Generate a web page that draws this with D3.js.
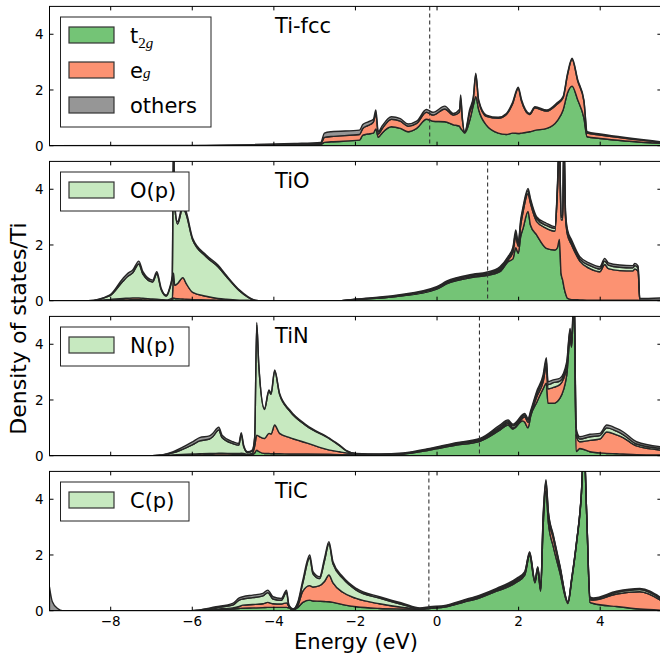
<!DOCTYPE html>
<meta charset="utf-8">
<html>
<head>
  <title>Ti DOS stack</title>
  <script src="https://d3js.org/d3.v7.min.js"></script>
  <style>
    body { margin: 0; background: white; }
    svg text { font-family: "DejaVu Sans", sans-serif; fill: #000; }
  </style>
</head>
<body>
<div id="chart"></div>
<script>

// each row: energy, then the top edge of every stacked layer (t2g, +eg, [+p], +others)
var fccRows = [
  [-9.5,0,0,0],[-6.0,0,0,0.01],[-4.5,0.01,0.02,0.04],[-3.5,0.03,0.05,0.08],[-2.85,0.05,0.08,0.12],
  [-2.76,0.12,0.3,0.45],[-2.6,0.14,0.33,0.5],[-1.9,0.2,0.4,0.56],[-1.82,0.38,0.62,0.76],[-1.7,0.42,0.72,0.85],
  [-1.56,0.45,0.85,0.95],[-1.5,0.6,1.15,1.28],[-1.44,0.3,0.42,0.5],[-1.35,0.45,0.6,0.7],[-1.12,0.68,0.95,1.04],
  [-0.9,0.62,0.88,0.97],[-0.71,0.5,0.7,0.78],[-0.5,0.62,0.8,0.88],[-0.26,0.95,1.2,1.3],[-0.1,0.88,1.1,1.2],
  [0.19,0.86,1.32,1.42],[0.4,0.75,1.1,1.16],[0.55,0.7,1.2,1.3],[0.58,0.62,1.7,1.82],[0.62,0.55,0.95,1.02],
  [0.68,0.45,0.48,0.5],[0.8,0.9,1.2,1.3],[0.89,1.45,1.7,1.76],[0.95,1.76,2.55,2.6],[1.02,1.3,1.6,1.64],
  [1.21,0.74,1.05,1.1],[1.5,0.45,0.98,1.02],[1.7,0.4,1.12,1.16],[1.85,0.45,1.5,1.55],[1.99,0.44,2.05,2.1],
  [2.07,0.45,1.6,1.66],[2.27,0.5,1.12,1.16],[2.4,0.55,1.36,1.4],[2.69,0.62,1.24,1.28],[2.95,0.9,1.5,1.55],
  [3.09,1.28,1.72,1.76],[3.2,1.9,2.55,2.6],[3.31,2.14,3.1,3.14],[3.45,1.64,2.32,2.36],[3.6,1.0,1.6,1.64],
  [3.68,0.32,0.45,0.5],[4.0,0.26,0.38,0.42],[5.5,0.08,0.12,0.14]
];

var tioRows = [
  [-9.5,0,0,0,0],[-8.55,0,0,0,0],[-8.03,0.01,0.04,0.17,0.2],[-7.7,0.03,0.08,0.7,0.8],[-7.58,0.03,0.09,0.88,0.98],
  [-7.46,0.04,0.1,1.0,1.1],[-7.31,0.04,0.1,1.32,1.42],[-7.21,0.03,0.09,0.95,1.04],[-6.97,0.02,0.06,0.67,0.74],
  [-6.87,0.02,0.05,0.97,1.04],[-6.76,0.01,0.04,0.39,0.44],[-6.64,0.01,0.03,0.17,0.2],[-6.56,0.02,0.05,0.4,0.44],
  [-6.49,0.03,0.1,0.87,0.92],[-6.46,0.1,1.0,5.9,6.0],[-6.43,0.08,0.55,3.4,3.5],[-6.36,0.07,0.62,2.75,2.84],
  [-6.23,0.06,0.83,3.35,3.45],[-6.15,0.05,0.62,3.1,3.2],[-5.99,0.04,0.3,2.18,2.24],[-5.66,0.03,0.16,1.58,1.64],
  [-5.37,0.02,0.08,1.22,1.28],[-5.17,0.01,0.05,0.88,0.92],[-4.84,0.01,0.02,0.35,0.38],[-4.47,0,0.01,0.02,0.02],
  [-4.37,0,0,0,0],[-2.39,0,0,0,0],[-1.98,0.04,0.045,0.05,0.06],[-1.0,0.15,0.16,0.18,0.2],[-0.01,0.42,0.44,0.47,0.5],
  [0.23,0.6,0.62,0.66,0.7],[0.88,0.84,0.86,0.9,0.95],[1.21,0.9,0.93,0.97,1.02],[1.54,1.04,1.1,1.16,1.22],
  [1.74,1.4,1.46,1.52,1.58],[1.86,1.5,1.75,1.85,1.92],[1.93,1.9,2.3,2.42,2.54],[1.99,1.7,1.95,2.02,2.1],
  [2.05,2.3,2.7,2.8,2.9],[2.11,2.6,3.2,3.3,3.38],[2.23,3.2,3.85,3.95,4.03],[2.29,2.72,3.5,3.6,3.67],
  [2.44,2.36,2.85,2.95,3.02],[2.68,1.88,2.6,2.7,2.78],[2.89,1.82,2.5,2.6,2.66],[2.95,1.9,3.9,4.0,4.1],
  [3.0,2.2,5.8,5.9,6.0],[3.04,0.98,2.9,3.0,3.05],[3.08,0.74,2.9,3.0,3.05],[3.11,0.5,5.8,5.9,6.0],
  [3.15,0.26,3.0,3.1,3.2],[3.2,0.08,2.35,2.45,2.54],[3.3,0.04,2.0,2.1,2.18],[3.5,0.03,1.42,1.5,1.58],
  [3.75,0.02,1.15,1.26,1.34],[3.99,0.02,1.04,1.14,1.22],[4.11,0.02,1.3,1.42,1.52],[4.2,0.02,1.15,1.28,1.36],
  [4.48,0.02,1.08,1.2,1.28],[4.8,0.02,1.07,1.18,1.26],[4.85,0.02,1.14,1.26,1.34],[4.93,0.02,1.05,1.16,1.24],
  [4.97,0,0.01,0.02,0.08],[5.5,0,0.01,0.02,0.1]
];

var tinRows = [
  [-9.5,0,0,0,0],[-6.98,0,0,0,0],[-6.48,0.01,0.03,0.1,0.14],[-5.99,0.02,0.06,0.4,0.5],[-5.82,0.02,0.07,0.53,0.65],
  [-5.58,0.03,0.08,0.6,0.71],[-5.5,0.03,0.08,0.68,0.8],[-5.35,0.03,0.09,0.92,1.02],[-5.27,0.03,0.09,0.65,0.74],
  [-5.0,0.03,0.08,0.43,0.5],[-4.86,0.03,0.08,0.38,0.44],[-4.8,0.04,0.09,0.76,0.83],[-4.74,0.03,0.08,0.33,0.38],
  [-4.64,0.02,0.05,0.11,0.14],[-4.53,0.04,0.08,0.17,0.2],[-4.47,0.1,0.35,0.64,0.68],[-4.42,0.2,0.74,4.7,4.78],
  [-4.37,0.15,0.7,3.25,3.3],[-4.23,0.08,0.62,1.66,1.7],[-4.12,0.08,0.8,2.32,2.36],[-4.07,0.07,0.78,2.2,2.24],
  [-3.98,0.07,1.1,3.04,3.08],[-3.86,0.07,0.8,2.2,2.24],[-3.61,0.06,0.65,1.6,1.64],[-3.2,0.06,0.46,1.07,1.1],
  [-2.63,0.05,0.2,0.6,0.62],[-2.39,0.04,0.14,0.36,0.38],[-2.22,0.04,0.1,0.17,0.18],[-1.98,0.03,0.06,0.075,0.08],
  [-1.41,0.03,0.04,0.05,0.06],[-0.83,0.06,0.07,0.08,0.1],[-0.18,0.2,0.22,0.24,0.26],[0.47,0.38,0.41,0.44,0.47],
  [1.05,0.52,0.55,0.58,0.62],[1.54,0.92,0.97,1.03,1.1],[1.74,1.1,1.16,1.22,1.28],[1.86,0.96,1.0,1.07,1.13],
  [2.1,1.25,1.35,1.42,1.48],[2.15,1.2,1.4,1.46,1.52],[2.23,1.0,1.2,1.28,1.34],[2.3,1.45,1.5,1.58,1.64],
  [2.44,1.9,2.1,2.22,2.3],[2.6,2.4,2.65,2.8,2.9],[2.68,2.6,3.2,3.4,3.52],[2.72,1.88,2.4,2.55,2.66],
  [2.85,1.88,2.45,2.62,2.72],[3.01,2.06,2.55,2.68,2.78],[3.18,2.9,3.15,3.28,3.38],[3.26,4.2,4.4,4.5,4.57],
  [3.3,3.9,4.0,4.1,4.2],[3.36,5.8,5.9,6.0,6.1],[3.41,0.15,0.75,0.9,0.98],[3.5,0.26,0.5,0.6,0.68],
  [3.75,0.14,0.55,0.68,0.77],[3.99,0.1,0.6,0.72,0.8],[4.16,0.08,0.85,1.0,1.1],[4.4,0.07,0.75,0.88,0.98],
  [4.56,0.06,0.65,0.76,0.86],[4.89,0.04,0.35,0.42,0.5],[5.5,0.03,0.2,0.26,0.32]
];

var ticRows = [
  [-9.5,0,0,0,0.85],[-9.43,0,0,0,0.32],[-9.3,0,0,0,0.08],[-9.18,0,0,0,0],[-6.03,0,0,0,0],
  [-5.42,0.03,0.06,0.11,0.14],[-5.01,0.06,0.1,0.2,0.26],[-4.85,0.08,0.15,0.38,0.46],[-4.76,0.09,0.2,0.42,0.5],
  [-4.52,0.1,0.22,0.47,0.56],[-4.27,0.11,0.25,0.53,0.62],[-4.15,0.12,0.3,0.65,0.74],[-4.02,0.12,0.25,0.42,0.5],
  [-3.82,0.12,0.24,0.37,0.44],[-3.69,0.12,0.28,0.66,0.74],[-3.63,0.1,0.15,0.17,0.2],[-3.53,0.02,0.04,0.05,0.06],
  [-3.41,0.12,0.2,0.28,0.32],[-3.29,0.3,0.7,1.0,1.1],[-3.12,0.38,0.9,1.9,2.0],[-3.04,0.35,0.85,1.32,1.4],
  [-2.88,0.34,0.9,1.15,1.22],[-2.76,0.33,1.05,1.78,1.88],[-2.65,0.32,1.28,2.4,2.48],[-2.55,0.3,1.0,1.68,1.76],
  [-2.31,0.22,0.66,1.16,1.22],[-1.98,0.14,0.44,0.74,0.8],[-1.41,0.08,0.25,0.45,0.5],[-0.83,0.06,0.12,0.21,0.26],
  [-0.42,0.05,0.07,0.08,0.1],[-0.18,0.08,0.1,0.12,0.14],[0.23,0.14,0.16,0.18,0.2],[0.64,0.3,0.32,0.35,0.38],
  [1.05,0.46,0.49,0.52,0.56],[1.46,0.7,0.73,0.76,0.8],[1.95,1.02,1.08,1.12,1.16],[2.15,1.28,1.33,1.37,1.4],
  [2.27,1.98,2.05,2.09,2.12],[2.4,1.0,1.05,1.08,1.1],[2.47,1.48,1.53,1.55,1.58],[2.54,0.7,0.75,0.77,0.8],
  [2.6,3.0,3.2,3.3,3.38],[2.67,4.3,4.55,4.65,4.7],[2.73,3.15,3.4,3.5,3.55],[2.85,2.3,2.6,2.68,2.72],
  [3.01,1.38,1.56,1.6,1.64],[3.21,0.26,0.29,0.31,0.32],[3.3,1.08,1.12,1.14,1.16],[3.42,2.42,2.45,2.47,2.48],
  [3.54,4.2,4.24,4.26,4.27],[3.6,6.0,6.05,6.08,6.1],[3.67,3.36,3.4,3.42,3.43],[3.75,0.3,0.4,0.46,0.5],
  [3.83,0.26,0.38,0.42,0.46],[4.4,0.15,0.6,0.66,0.7],[4.97,0.06,0.68,0.76,0.8],[5.5,0.02,0.36,0.42,0.46]
];

var panelTitles = ["Ti-fcc", "TiO", "TiN", "TiC"];
var fermiLevels = [-0.18, 1.24, 1.04, -0.2];
var pLabels = ["O(p)", "N(p)", "C(p)"];
var xTicks = [-8, -6, -4, -2, 0, 2, 4];
var yTicks = [0, 2, 4];

var colors = {t2g: "#74c476", eg: "#fc9272", p: "#c7e9c0", others: "#969696"};

var panels = [
  {rows: fccRows, layers: ["t2g", "eg", "others"],
   legend: [{key: "t2g", text: "t", sub: ["2", "g"]}, {key: "eg", text: "e", sub: ["", "g"]}, {key: "others", text: "others"}]},
  {rows: tioRows, layers: ["t2g", "eg", "p", "others"], legend: [{key: "p", text: pLabels[0]}]},
  {rows: tinRows, layers: ["t2g", "eg", "p", "others"], legend: [{key: "p", text: pLabels[1]}]},
  {rows: ticRows, layers: ["t2g", "eg", "p", "others"], legend: [{key: "p", text: pLabels[2]}]}
];

// layout
var W = 660, H = 655;
var left = 49.5, right = 661.4;
var firstTop = 6.4, panelH = 139.3, step = 155;

var svg = d3.select("#chart").append("svg")
  .attr("width", W).attr("height", H)
  .style("display", "block")
  .style("background", "white");

var x = d3.scaleLinear().domain([-9.5, 5.5]).range([left, right]);

panels.forEach(function(p, i) {
  var top = firstTop + i * step, bottom = top + panelH;
  var y = d3.scaleLinear().domain([0, 5]).range([bottom, top]);

  svg.append("clipPath").attr("id", "clip" + i)
    .append("rect").attr("x", left).attr("y", top).attr("width", right - left).attr("height", panelH);

  var g = svg.append("g");
  var plot = g.append("g").attr("clip-path", "url(#clip" + i + ")");

  // stacked areas
  p.layers.forEach(function(key, k) {
    var area = d3.area()
      .curve(d3.curveMonotoneX)
      .x(function(d) { return x(d[0]); })
      .y0(function(d) { return y(k == 0 ? 0 : d[k]); })
      .y1(function(d) { return y(d[k + 1]); });
    plot.append("path")
      .datum(p.rows)
      .attr("d", area)
      .attr("fill", colors[key])
      .attr("stroke", "#262626")
      .attr("stroke-width", 1.4)
      .attr("stroke-linejoin", "round");
  });

  // fermi level
  plot.append("line")
    .attr("x1", x(fermiLevels[i])).attr("x2", x(fermiLevels[i]))
    .attr("y1", top).attr("y2", bottom)
    .attr("stroke", "#333").attr("stroke-width", 1.1)
    .attr("stroke-dasharray", "4,3");

  // frame
  g.append("rect")
    .attr("x", left).attr("y", top).attr("width", right - left).attr("height", panelH)
    .attr("fill", "none").attr("stroke", "#000").attr("stroke-width", 1);

  // inward ticks on all four sides
  xTicks.forEach(function(t) {
    g.append("line").attr("x1", x(t)).attr("x2", x(t)).attr("y1", bottom).attr("y2", bottom - 4)
      .attr("stroke", "#000");
    g.append("line").attr("x1", x(t)).attr("x2", x(t)).attr("y1", top).attr("y2", top + 4)
      .attr("stroke", "#000");
  });
  yTicks.forEach(function(t) {
    g.append("line").attr("x1", left).attr("x2", left + 4).attr("y1", y(t)).attr("y2", y(t))
      .attr("stroke", "#000");
    g.append("line").attr("x1", right).attr("x2", right - 4).attr("y1", y(t)).attr("y2", y(t))
      .attr("stroke", "#000");
    g.append("text")
      .attr("x", left - 6).attr("y", y(t)).attr("dy", "0.36em")
      .attr("text-anchor", "end")
      .style("font-size", "13.5px")
      .text(t);
  });

  if (i == panels.length - 1) {
    xTicks.forEach(function(t) {
      g.append("text")
        .attr("x", x(t)).attr("y", bottom + 15)
        .attr("text-anchor", "middle")
        .style("font-size", "13.5px")
        .text(t < 0 ? "\u2212" + Math.abs(t) : t);
    });
  }

  // title
  g.append("text")
    .attr("x", 275).attr("y", top + 27)
    .style("font-size", "21px")
    .text(panelTitles[i]);

  // legend
  var lg = g.append("g");
  var boxW = i == 0 ? 150.5 : 128.5;
  var rowGap = 35;
  var boxH = i == 0 ? 110 : 39;
  lg.append("rect")
    .attr("x", 60.5).attr("y", top + 10.6)
    .attr("width", boxW).attr("height", boxH)
    .attr("fill", "white").attr("stroke", "#222").attr("stroke-width", 1);
  p.legend.forEach(function(e, j) {
    var ry = top + 20.6 + j * rowGap;
    lg.append("rect")
      .attr("x", 69).attr("y", ry).attr("width", 45).attr("height", 16)
      .attr("fill", colors[e.key]).attr("stroke", "#333").attr("stroke-width", 1.2);
    var t = lg.append("text")
      .attr("x", 130).attr("y", ry + 16)
      .style("font-size", "21px");
    t.append("tspan").text(e.text);
    if (e.sub) {
      t.append("tspan").attr("dy", 5)
        .style("font-family", "Liberation Serif").style("font-size", "15px")
        .text(e.sub[0]);
      t.append("tspan")
        .style("font-family", "Liberation Serif").style("font-size", "15px").style("font-style", "italic")
        .text(e.sub[1]);
    }
  });
});

// axis labels
svg.append("text")
  .attr("x", 356).attr("y", 649)
  .attr("text-anchor", "middle")
  .style("font-size", "21px")
  .text("Energy (eV)");

svg.append("text")
  .attr("transform", "translate(26,328.5)rotate(-90)")
  .attr("text-anchor", "middle")
  .style("font-size", "22px")
  .text("Density of states/Ti");

</script>
</body>
</html>
